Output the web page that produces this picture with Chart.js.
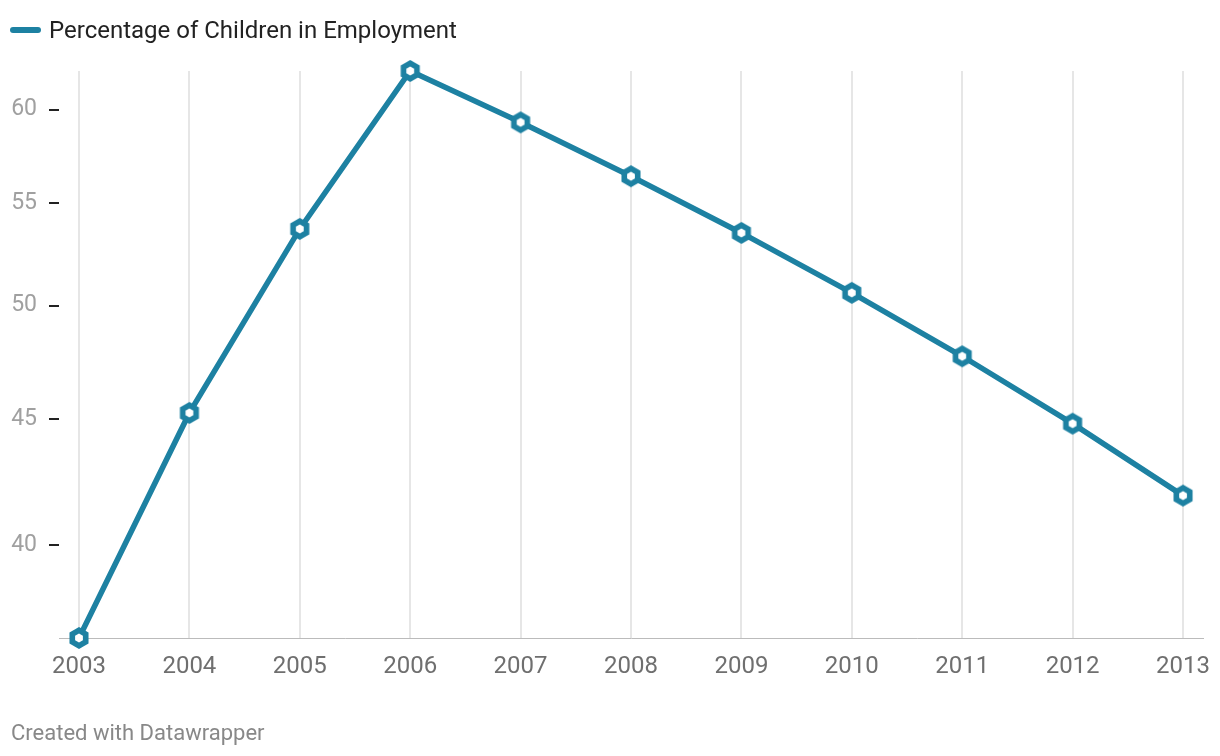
<!DOCTYPE html>
<html>
<head>
<meta charset="utf-8">
<script src="https://cdn.jsdelivr.net/npm/chart.js@4"></script>
<style>
  body { margin: 0; background: #fff; font-family: Roboto, sans-serif; }
  #wrap { position: relative; width: 1220px; height: 756px; }
  #grafico { position: absolute; left: 0; top: 0; }
  #leyenda { position: absolute; left: 10px; top: 16px; height: 28px; display: flex; align-items: center; font-size: 24px; color: #222; }
  #leyenda span.linea { display: inline-block; width: 31px; height: 6px; border-radius: 3px; background: #1d81a2; margin-right: 8px; }
  #pie { position: absolute; left: 11px; top: 720px; font-size: 22px; color: #888; }
</style>
</head>
<body>
<div id="wrap">
  <canvas id="grafico" width="1220" height="756"></canvas>
  <div id="leyenda"><span class="linea"></span>Percentage of Children in Employment</div>
  <div id="pie">Created with Datawrapper</div>
</div>
<script>
// datos
const years = [2003, 2004, 2005, 2006, 2007, 2008, 2009, 2010, 2011, 2012, 2013];
const pctChildren = [36.7, 45.25, 53.7, 62.2, 59.3, 56.4, 53.5, 50.6, 47.7, 44.8, 41.9];
const yTicks = [40, 45, 50, 55, 60];

const azul = '#1d81a2';

// marcador hexagonal
function hexagono() {
    const c = document.createElement('canvas');
    c.width = 22; c.height = 24;
    const g = c.getContext('2d');
    function hex(r, color) {
        g.beginPath();
        for (let i = 0; i < 6; i++) {
            const a = Math.PI / 2 + i * Math.PI / 3;
            const px = 11 + r * Math.cos(a), py = 12 - r * Math.sin(a);
            if (i === 0) g.moveTo(px, py); else g.lineTo(px, py);
        }
        g.closePath();
        g.fillStyle = color;
        g.fill();
    }
    hex(11, azul);
    hex(4.5, '#ffffff');
    return c;
}

const puntos = years.map((y, i) => ({ x: y, y: pctChildren[i] }));

const grafico = new Chart(document.getElementById('grafico'), {
    type: 'line',
    data: {
        datasets: [{
            label: 'Percentage of Children in Employment',
            data: puntos,
            borderColor: azul,
            backgroundColor: azul,
            borderWidth: 5.5,
            tension: 0,
            pointStyle: hexagono(),
            pointRadius: 10,
            clip: false
        }]
    },
    options: {
        responsive: false,
        animation: false,
        layout: { padding: { top: 71, right: 17, left: 0, bottom: 0 } },
        plugins: { legend: { display: false }, tooltip: { enabled: false } },
        scales: {
            x: {
                type: 'linear',
                min: 2002.819,
                max: 2013.181,
                afterBuildTicks: s => { s.ticks = years.map(v => ({ value: v })); },
                afterFit: s => { s.height = 118; s.paddingRight = 0; },
                grid: { color: '#e6e6e6', lineWidth: 2, drawTicks: false },
                border: { color: '#bbbbbb', width: 1 },
                ticks: {
                    padding: 15,
                    color: '#6f6f6f',
                    font: { family: 'Roboto', size: 24 },
                    callback: v => String(v),
                    maxRotation: 0
                }
            },
            y: {
                type: 'logarithmic',
                min: 36.7,
                max: 62.2,
                bounds: 'data',
                afterBuildTicks: s => { s.ticks = yTicks.map(v => ({ value: v })); },
                afterFit: s => { s.width = 59; },
                grid: { drawOnChartArea: false, drawTicks: true, tickLength: 10, color: '#222', lineWidth: 2 },
                border: { display: false },
                ticks: {
                    padding: 12,
                    color: '#a0a0a0',
                    font: { family: 'Roboto', size: 23 },
                    callback: v => String(v)
                }
            }
        }
    }
});
</script>
</body>
</html>
